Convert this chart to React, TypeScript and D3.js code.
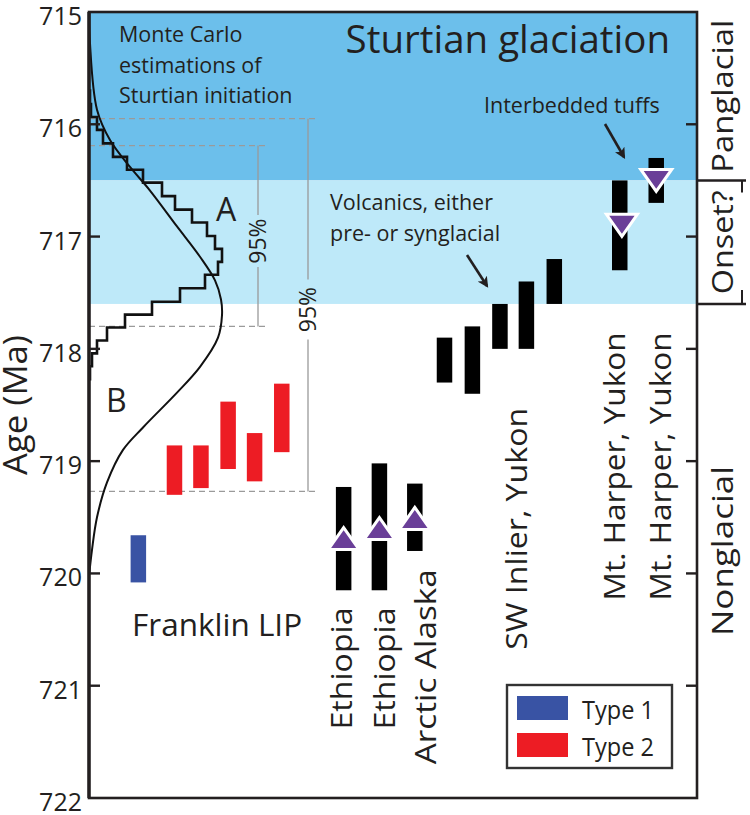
import React from 'react';
import * as d3 from 'd3';

const W = 750;
const H = 815;
const FONT = "'Open Sans', 'Noto Sans', sans-serif";

// ---- axis ----
const ageTicks = [715, 716, 717, 718, 719, 720, 721, 722];

// ---- climate zones ----
const zoneNames = ['Panglacial', 'Onset?', 'Nonglacial'];
const zoneTop = [715, 716.5, 717.6];
const zoneBase = [716.5, 717.6, 722];
const zoneFill = ['#6cbfeb', '#bee9f9', 'none'];
const zoneLabelLen = [153, 104, 170];

// ---- Monte Carlo histogram (relative frequency) ----
const histEdges = [715.70, 715.82, 715.935, 716.05, 716.17, 716.29, 716.405, 716.52, 716.64, 716.76, 716.875, 716.995, 717.11, 717.225, 717.34, 717.46, 717.58, 717.695, 717.81, 717.925, 718.04, 718.155, 718.27];
const histCounts = [1, 2, 8, 14, 24, 38, 54, 73, 86, 103, 118, 126, 133, 129, 116, 91, 63, 36, 18, 8, 3, 1];

// ---- fitted density curve ----
const curveAge = [715.0, 715.28, 715.87, 716.14, 716.38, 716.59, 716.91, 717.18, 717.39, 717.56, 717.7, 717.9, 718.16, 718.39, 718.7, 718.9, 719.19, 719.5, 719.79, 720.0];
const curveDensity = [0.3, 1, 8, 21, 41, 61, 88, 111, 126, 132, 133, 129, 111, 88, 54, 34, 18, 8, 3, 0.3];

// ---- 95% intervals ----
const ci95Young = [716.19, 715.95];
const ci95Old = [717.80, 719.27];
const ci95LabelAge = [717.04, 717.65];

// ---- dated samples ----
const barLane = [1.38, 2.39, 3.13, 3.89, 4.63, 5.39, 7.12, 8.12, 9.11, 9.94, 10.72, 11.49, 12.23, 13.01, 14.84, 15.86];
const barYoung = [719.66, 718.86, 718.86, 718.47, 718.75, 718.31, 719.23, 719.02, 719.20, 717.90, 717.80, 717.60, 717.40, 717.20, 716.50, 716.30];
const barOld = [720.08, 719.30, 719.24, 719.07, 719.18, 718.92, 720.15, 720.15, 719.80, 718.30, 718.40, 718.00, 718.00, 717.60, 717.30, 716.70];
const barKind = ['Type 1', 'Type 2', 'Type 2', 'Type 2', 'Type 2', 'Type 2', 'Other', 'Other', 'Other', 'Other', 'Other', 'Other', 'Other', 'Other', 'Other', 'Other'];
const kindColor: Record<string, string> = { 'Type 1': '#3953a4', 'Type 2': '#ed1c24', Other: '#000000' };

// ---- tuff markers ----
const markerLane = [7.12, 8.12, 9.11, 14.9, 15.86];
const markerAge = [719.69, 719.60, 719.51, 716.90, 716.50];
const markerDir = ['up', 'up', 'up', 'down', 'down'];

// ---- site labels (rotated) ----
const siteNames = ['Ethiopia', 'Ethiopia', 'Arctic Alaska', 'SW Inlier, Yukon', 'Mt. Harper, Yukon', 'Mt. Harper, Yukon'];
const siteLane = [7.35, 8.55, 9.7, 12.25, 14.99, 16.26];
const siteStartAge = [721.39, 721.39, 721.70, 720.68, 720.24, 720.24];
const siteLen = [122, 122, 195, 242, 268, 268];

const legendKinds = ['Type 1', 'Type 2'];

const PLOT = { left: 89, right: 697, top: 12, bottom: 798 };

export default function App() {
  const y = d3.scaleLinear().domain([715, 722]).range([PLOT.top, PLOT.bottom]);
  const lane = d3.scaleLinear().domain([0, 17]).range([PLOT.left, PLOT.right]);
  const dens = d3.scaleLinear().domain([0, 140]).range([PLOT.left, PLOT.left + 140]);

  // histogram step outline
  const histPts: [number, number][] = [[0, histEdges[0]]];
  histCounts.forEach((c, i) => {
    histPts.push([c, histEdges[i]]);
    histPts.push([c, histEdges[i + 1]]);
  });
  histPts.push([0, histEdges[histEdges.length - 1]]);
  const histPath = d3.line<[number, number]>().x(d => dens(d[0])).y(d => y(d[1]))(histPts) || '';

  const curvePath = d3.line<number>()
    .x((_, i) => dens(curveDensity[i]))
    .y(d => y(d))
    .curve(d3.curveCatmullRom.alpha(0.5))(curveAge) || '';

  const BW = 15.5;
  const frameColor = '#231f20';
  const grey = '#9a9a9a';

  const ciX = [258, 308];
  const ciDashEnd = [268, 318];
  const ciGap = [26, 30];

  const vText = (x: number, yy: number, t: string, size: number, anchor: string, len?: number, key?: string) => (
    <text key={key} transform={`translate(${x},${yy}) rotate(-90)`} textAnchor={anchor} fontSize={size}
      fontFamily={FONT} fill="#231f20" {...(len ? { textLength: len, lengthAdjust: 'spacingAndGlyphs' } : {})}>{t}</text>
  );

  return (
    <svg width={W} height={H} style={{ position: 'absolute', left: 0, top: 0, background: '#fff' }}>
      <defs>
        <marker id="ah" viewBox="0 0 10 10" refX="8" refY="5" markerWidth="4.2" markerHeight="4.2" orient="auto">
          <path d="M0,0 L10,5 L0,10 L2.5,5 Z" fill="#231f20" />
        </marker>
      </defs>

      {/* zone bands */}
      {zoneNames.map((z, i) => zoneFill[i] !== 'none' && (
        <rect key={z} x={PLOT.left} y={y(zoneTop[i])} width={PLOT.right - PLOT.left} height={y(zoneBase[i]) - y(zoneTop[i])} fill={zoneFill[i]} />
      ))}

      {/* 95% dashed limits and gray brackets */}
      {ci95Young.map((a, i) => (
        <g key={'ci' + i}>
          <line x1={PLOT.left} x2={ciDashEnd[i]} y1={y(a)} y2={y(a)} stroke={grey} strokeWidth={1.3} strokeDasharray="6,4" />
          <line x1={PLOT.left} x2={ciDashEnd[i]} y1={y(ci95Old[i])} y2={y(ci95Old[i])} stroke={grey} strokeWidth={1.3} strokeDasharray="6,4" />
          <line x1={ciX[i]} x2={ciX[i]} y1={y(a)} y2={y(ci95LabelAge[i]) - ciGap[i]} stroke={grey} strokeWidth={1.3} />
          <line x1={ciX[i]} x2={ciX[i]} y1={y(ci95LabelAge[i]) + ciGap[i]} y2={y(ci95Old[i])} stroke={grey} strokeWidth={1.3} />
          <text transform={`translate(${ciX[i] + 8},${y(ci95LabelAge[i])}) rotate(-90)`} textAnchor="middle" fontSize={23} fontFamily={FONT} fill="#231f20">95%</text>
        </g>
      ))}

      {/* histogram & curve */}
      <path d={histPath} fill="none" stroke="#111" strokeWidth={2.6} strokeLinejoin="miter" />
      <path d={curvePath} fill="none" stroke="#111" strokeWidth={2} />

      {/* annotations */}
      <text x={119} fontSize={21.5} fontFamily={FONT} fill="#231f20">
        <tspan x={119} y={42}>Monte Carlo</tspan>
        <tspan x={119} y={72.5}>estimations of</tspan>
        <tspan x={119} y={103}>Sturtian initiation</tspan>
      </text>
      <text x={670} y={53} textAnchor="end" fontSize={38.5} fontFamily={FONT} fill="#231f20">Sturtian glaciation</text>
      <text x={484} y={113} fontSize={21.5} fontFamily={FONT} fill="#231f20">Interbedded tuffs</text>
      <text x={330} fontSize={21.5} fontFamily={FONT} fill="#231f20">
        <tspan x={330} y={210}>Volcanics, either</tspan>
        <tspan x={330} y={241}>pre- or synglacial</tspan>
      </text>
      <text x={216} y={221} fontSize={32} fontFamily={FONT} fill="#231f20">A</text>
      <text x={106} y={412} fontSize={32} fontFamily={FONT} fill="#231f20">B</text>
      <text x={132} y={636} fontSize={31.5} fontFamily={FONT} fill="#231f20">Franklin LIP</text>

      <line x1={605} y1={124} x2={624} y2={157} stroke="#231f20" strokeWidth={2.6} markerEnd="url(#ah)" />
      <line x1={467} y1={255} x2={487} y2={286} stroke="#231f20" strokeWidth={2.6} markerEnd="url(#ah)" />

      {/* bars */}
      {barLane.map((l, i) => (
        <rect key={'b' + i} x={lane(l) - BW / 2} y={y(barYoung[i])} width={BW} height={y(barOld[i]) - y(barYoung[i])} fill={kindColor[barKind[i]]} />
      ))}

      {/* tuff markers */}
      {markerLane.map((l, i) => {
        const cx = lane(l), cy = y(markerAge[i]);
        const hw = 15.5, hh = 11;
        const pts = markerDir[i] === 'up'
          ? [[cx, cy - hh], [cx + hw, cy + hh], [cx - hw, cy + hh]]
          : [[cx - hw, cy - hh], [cx + hw, cy - hh], [cx, cy + hh]];
        return <polygon key={'m' + i} points={pts.map(p => p.join(',')).join(' ')} fill="#6a3f98" stroke="#fff" strokeWidth={3} strokeLinejoin="miter" />;
      })}

      {/* site labels */}
      {siteNames.map((s, i) => vText(lane(siteLane[i]), y(siteStartAge[i]), s, 29, 'start', siteLen[i], 's' + i))}

      {/* frame */}
      <rect x={PLOT.left} y={PLOT.top} width={PLOT.right - PLOT.left} height={PLOT.bottom - PLOT.top} fill="none" stroke={frameColor} strokeWidth={2.6} />
      <line x1={PLOT.left} x2={PLOT.left} y1={PLOT.top} y2={PLOT.bottom} stroke={frameColor} strokeWidth={3.4} />
      {ageTicks.slice(1, -1).map(t => (
        <g key={'t' + t}>
          <line x1={PLOT.left} x2={PLOT.left + 11} y1={y(t)} y2={y(t)} stroke={frameColor} strokeWidth={2.4} />
          <line x1={PLOT.right - 11} x2={PLOT.right} y1={y(t)} y2={y(t)} stroke={frameColor} strokeWidth={2.4} />
        </g>
      ))}
      {ageTicks.map(t => (
        <text key={'tl' + t} x={82} y={y(t) + 13} textAnchor="end" fontSize={25} fontFamily={FONT} fill="#231f20">{t}</text>
      ))}
      {vText(27, 405, 'Age (Ma)', 32, 'middle', 140)}

      {/* right zone labels */}
      {zoneNames.map((z, i) => vText(733, (y(zoneTop[i]) + y(zoneBase[i])) / 2, z, 29, 'middle', zoneLabelLen[i], 'z' + i))}
      {[716.5, 717.6].map(b => (
        <line key={'zb' + b} x1={PLOT.right} x2={746} y1={y(b)} y2={y(b)} stroke={frameColor} strokeWidth={2.4} />
      ))}
      <line x1={742} x2={742} y1={y(716.5)} y2={y(716.5) + 12} stroke={frameColor} strokeWidth={2} />
      <line x1={742} x2={742} y1={y(717.6) - 14} y2={y(717.6)} stroke={frameColor} strokeWidth={2} />

      {/* legend */}
      <rect x={507} y={685} width={165} height={83} fill="#fff" stroke="#333" strokeWidth={2.4} />
      {legendKinds.map((k, i) => (
        <g key={'lg' + k}>
          <rect x={517} y={696 + i * 37} width={51} height={24} fill={kindColor[k]} />
          <text x={582} y={719 + i * 37} fontSize={25} fontFamily={FONT} fill="#231f20" textLength={72} lengthAdjust="spacingAndGlyphs">{k}</text>
        </g>
      ))}
    </svg>
  );
}
